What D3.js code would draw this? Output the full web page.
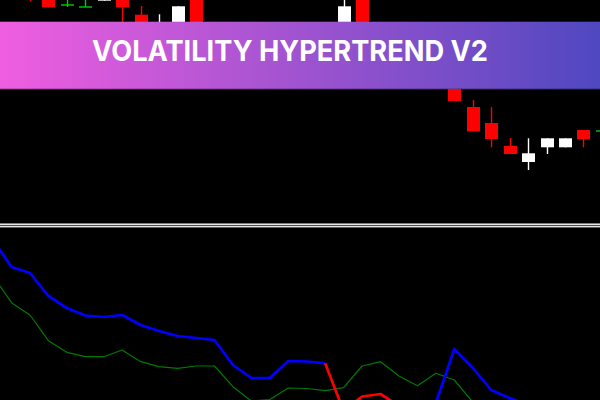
<!DOCTYPE html>
<html><head><meta charset="utf-8">
<script src="https://cdn.jsdelivr.net/npm/d3@7"></script>
<style>html,body{margin:0;padding:0;background:#000;overflow:hidden}</style>
</head><body><svg id="c" width="600" height="400"></svg>
<script>
// ---- data ----
const titleText = "VOLATILITY HYPERTREND V2";
const barIndex = [0,1,2,3,4,5,6,7,8,9,10,11,12,13,14,15,16,17,18,19,20,21,22,23,24,25,26,27,28,29,30,31,32];
const openP  = [1.20350,1.20250,1.20140,1.19950,1.19933,1.19993,1.20080,1.19853,1.19600,1.19700,1.20020,1.19580,1.19400,1.19260,1.19420,1.19300,1.19540,1.19640,1.19700,1.20020,1.19640,1.19420,1.19540,1.19320,1.19220,1.18930,1.18770,1.18540,1.18380,1.18527,1.18527,1.18700,1.18693];
const highP  = [1.20400,1.20300,1.20200,1.20060,1.20040,1.20180,1.20160,1.19940,1.19857,1.19937,1.20050,1.19620,1.19450,1.19500,1.19480,1.19600,1.19700,1.19750,1.20030,1.20060,1.19700,1.19600,1.19580,1.19380,1.19300,1.19000,1.18930,1.18620,1.18617,1.18617,1.18617,1.18700,1.18693];
const lowP   = [1.20060,1.19990,1.19927,1.19930,1.19933,1.19993,1.19700,1.19550,1.19520,1.19640,1.19560,1.19340,1.19180,1.19200,1.19220,1.19250,1.19480,1.19560,1.19650,1.19600,1.19400,1.19360,1.19240,1.19140,1.18990,1.18687,1.18527,1.18460,1.18300,1.18460,1.18527,1.18527,1.18693];
const closeP = [1.20150,1.20080,1.19927,1.19950,1.19933,1.20120,1.19927,1.19620,1.19720,1.19937,1.19600,1.19400,1.19250,1.19420,1.19300,1.19550,1.19650,1.19720,1.19937,1.19650,1.19450,1.19550,1.19300,1.19200,1.18990,1.18687,1.18610,1.18460,1.18467,1.18617,1.18617,1.18607,1.18693];

const indIndex = [-1,0,1,2,3,4,5,6,7,8,9,10,11,12,13,14,15,16,17,18,19,20,21,22,23,24,25,26,27,28,29,30,31,32];
const upTrend   = [160,133,127,104,92,84.5,83,85,75,69,64,62,60,35,22,22,39,38.5,36.7,null,null,null,null,null,-3,51,32,10,2,-5,-9,-12,-14,-15];
const downTrend = [null,null,null,null,null,null,null,null,null,null,null,null,null,null,null,null,null,null,36.7,-11,3.5,6,-6,-10,-3,null,null,null,null,null,null,null,null,null];
const signal    = [124,97.3,85,59.3,47.7,43.3,43.3,50,38.3,33.3,31.7,34,34,13.3,-1,0.5,12,11.5,9.3,12.3,34,38.3,24,14.3,26.7,20,-2,-10,-14,-16,-15,-14,-13,-12];

// ---- drawing ----
const svg = d3.select("#c");
svg.append("rect").attr("width",600).attr("height",400).attr("fill","#000");

const xs = d3.scaleLinear().domain([0,32]).range([11.5,601.9]);
const yp = d3.scaleLinear().domain([1.20000,1.17850]).range([0,215]);
const yi = d3.scaleLinear().domain([0,172]).range([400,228]);

const defs = svg.append("defs");
defs.append("clipPath").attr("id","top").append("rect").attr("x",0).attr("y",0).attr("width",600).attr("height",222);
defs.append("clipPath").attr("id","bot").append("rect").attr("x",0).attr("y",228).attr("width",600).attr("height",172);

const candles = barIndex.map((d,k)=>({i:d,o:openP[k],h:highP[k],l:lowP[k],c:closeP[k]}));
const gc = svg.append("g").attr("clip-path","url(#top)");
candles.forEach(d=>{
  const doji = Math.abs(d.c-d.o) < 1e-9;
  const col = doji ? "#00cc00" : (d.c>d.o ? "#ffffff" : "#ff0000");
  const cx = Math.round(xs(d.i));
  gc.append("line").attr("x1",cx+0.5).attr("x2",cx+0.5).attr("y1",yp(d.h)).attr("y2",yp(d.l))
    .attr("stroke",col).attr("stroke-width",1.4);
  if (doji){
    const yy = Math.round(yp(d.o));
    gc.append("rect").attr("x",cx-6).attr("width",13).attr("y",yy-0.7).attr("height",1.4).attr("fill",col);
  } else {
    const t = yp(Math.max(d.o,d.c)), b = yp(Math.min(d.o,d.c));
    gc.append("rect").attr("x",cx-6).attr("width",13).attr("y",t).attr("height",b-t).attr("fill",col);
  }
});

// separator
[[223.5,"#808080"],[224.5,"#e6e6e6"],[225.5,"#505050"],[226.5,"#e6e6e6"],[227.5,"#606060"]].forEach(([y,c])=>{
  svg.append("line").attr("x1",0).attr("x2",600).attr("y1",y).attr("y2",y).attr("stroke",c).attr("stroke-width",1);
});

// indicator
const gi = svg.append("g").attr("clip-path","url(#bot)");
const mk = arr => d3.line().defined((d,k)=>arr[k]!=null).x((d,k)=>xs(indIndex[k])).y((d,k)=>yi(arr[k]));
gi.append("path").datum(signal).attr("d",mk(signal)).attr("fill","none").attr("stroke","#007a00").attr("stroke-width",1.2).attr("stroke-linejoin","round");
gi.append("path").datum(upTrend).attr("d",mk(upTrend)).attr("fill","none").attr("stroke","#0000ff").attr("stroke-width",2.7).attr("stroke-linejoin","round");
gi.append("path").datum(downTrend).attr("d",mk(downTrend)).attr("fill","none").attr("stroke","#ff0000").attr("stroke-width",2.7).attr("stroke-linejoin","round");

// banner
const lg = defs.append("linearGradient").attr("id","bn").attr("x1","0").attr("x2","1").attr("y1","0").attr("y2","0");
lg.append("stop").attr("offset","0").attr("stop-color","#f05ee0");
lg.append("stop").attr("offset","1").attr("stop-color","#4f48c0");
svg.append("rect").attr("x",0).attr("y",21.7).attr("width",600).attr("height",67.6).attr("fill","url(#bn)");
svg.append("rect").attr("x",0).attr("y",88.3).attr("width",600).attr("height",1).attr("fill","#000").attr("opacity",0.25);
svg.append("text").attr("x",92).attr("y",61).attr("fill","#fff")
  .attr("font-family","Inter, 'Open Sans', sans-serif").attr("font-weight",700).attr("font-size",29)
  .attr("textLength",396).attr("lengthAdjust","spacingAndGlyphs").text(titleText);
</script></body></html>
